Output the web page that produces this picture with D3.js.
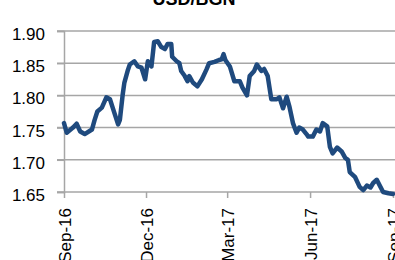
<!DOCTYPE html>
<html>
<head>
<meta charset="utf-8">
<script src="https://cdn.jsdelivr.net/npm/d3@7"></script>
<style>
  body { margin: 0; background: #fff; overflow: hidden; }
  text { font-family: "Liberation Sans", Arial, sans-serif; }
</style>
</head>
<body>
<div id="chart"></div>
<script>
// USD/BGN, Sep-16 .. Sep-17
var dates = ["2016-09-01","2016-09-04","2016-09-11","2016-09-15","2016-09-19","2016-09-24",
  "2016-10-02","2016-10-05","2016-10-08","2016-10-13","2016-10-18","2016-10-22","2016-10-25",
  "2016-10-31","2016-11-02","2016-11-05","2016-11-07","2016-11-11","2016-11-13","2016-11-18",
  "2016-11-22","2016-11-26","2016-11-30","2016-12-03","2016-12-07","2016-12-10","2016-12-14",
  "2016-12-18","2016-12-22","2016-12-25","2016-12-29","2016-12-30","2017-01-04","2017-01-07",
  "2017-01-09","2017-01-13","2017-01-16","2017-01-18","2017-01-22","2017-01-27","2017-02-01",
  "2017-02-06","2017-02-09","2017-02-15","2017-02-20","2017-02-23","2017-02-25","2017-02-27",
  "2017-03-04","2017-03-09","2017-03-15","2017-03-18","2017-03-23","2017-03-26","2017-03-31",
  "2017-04-03","2017-04-08","2017-04-11","2017-04-15","2017-04-19","2017-04-25","2017-04-28",
  "2017-05-02","2017-05-06","2017-05-09","2017-05-13","2017-05-17","2017-05-20","2017-05-24",
  "2017-05-28","2017-05-30","2017-06-04","2017-06-08","2017-06-12","2017-06-15","2017-06-20",
  "2017-06-23","2017-06-26","2017-07-01","2017-07-06","2017-07-10","2017-07-13","2017-07-15",
  "2017-07-21","2017-07-26","2017-07-30","2017-08-03","2017-08-07","2017-08-10","2017-08-14",
  "2017-08-18","2017-08-21","2017-08-27","2017-09-01"];
var rates = [1.757,1.742,1.750,1.756,1.744,1.740,
  1.747,1.762,1.775,1.781,1.797,1.794,1.781,
  1.755,1.762,1.800,1.820,1.840,1.848,1.853,
  1.845,1.843,1.825,1.853,1.845,1.883,1.884,
  1.875,1.872,1.880,1.880,1.860,1.853,1.850,
  1.838,1.830,1.822,1.830,1.820,1.814,1.825,
  1.840,1.850,1.852,1.855,1.856,1.864,1.855,
  1.845,1.822,1.822,1.812,1.800,1.830,1.838,
  1.848,1.838,1.841,1.830,1.794,1.794,1.797,
  1.780,1.798,1.783,1.757,1.742,1.750,1.747,
  1.740,1.736,1.736,1.747,1.744,1.757,1.752,
  1.720,1.710,1.719,1.713,1.703,1.700,1.681,
  1.673,1.658,1.653,1.660,1.657,1.664,1.669,
  1.658,1.650,1.648,1.647];
var yTicks = [1.65, 1.70, 1.75, 1.80, 1.85, 1.90];
var xTicks = ["2016-09-01","2016-12-01","2017-03-01","2017-06-01","2017-09-01"];
var title = "USD/BGN";

var W = 395, H = 260;
var margin = {left: 64, top: 31, right: 2, bottom: 68};
var parse = d3.timeParse("%Y-%m-%d");

var data = dates.map(function(d, i) { return {date: parse(d), value: rates[i]}; });

var svg = d3.select("#chart").append("svg")
  .attr("width", W).attr("height", H);

var x = d3.scaleTime()
  .domain([parse(xTicks[0]), parse(xTicks[xTicks.length - 1])])
  .range([margin.left, W - margin.right]);
var y = d3.scaleLinear()
  .domain([1.65, 1.90])
  .range([H - margin.bottom, margin.top]);

// gridlines
svg.append("g")
  .selectAll("line")
  .data(yTicks)
  .enter().append("line")
  .attr("x1", margin.left - 7).attr("x2", W + 5)
  .attr("y1", function(d) { return y(d); })
  .attr("y2", function(d) { return y(d); })
  .style("stroke", "#a6a6a6")
  .style("stroke-width", 1.5);

// y axis
var yAxis = svg.append("g")
  .attr("transform", "translate(" + margin.left + ",0)")
  .call(d3.axisLeft(y).tickValues(yTicks).tickFormat(d3.format(".2f")).tickSize(7).tickPadding(12));
yAxis.select(".domain").style("stroke", "#a6a6a6").style("stroke-width", 1.5);
yAxis.selectAll(".tick line").style("stroke", "#a6a6a6").style("stroke-width", 1.5);
yAxis.selectAll("text")
  .style("font-size", "17px").style("fill", "#000")
  .attr("dy", "0.5em");

// x axis
var xAxis = svg.append("g")
  .attr("transform", "translate(0," + y(1.65) + ")")
  .call(d3.axisBottom(x).tickValues(xTicks.map(parse)).tickFormat(d3.timeFormat("%b-%y")).tickSize(6).tickSizeOuter(0));
xAxis.select(".domain").remove();
xAxis.selectAll(".tick line").style("stroke", "#a6a6a6").style("stroke-width", 1.5);
xAxis.selectAll("text")
  .style("font-size", "17px").style("fill", "#000")
  .attr("text-anchor", "end")
  .attr("transform", "rotate(-90)")
  .attr("x", -16).attr("y", 0).attr("dy", "0.38em");

// line
var line = d3.line()
  .x(function(d) { return x(d.date); })
  .y(function(d) { return y(d.value); });

svg.append("path")
  .datum(data)
  .attr("d", line)
  .style("fill", "none")
  .style("stroke", "#1f4a7e")
  .style("stroke-width", 4.5)
  .style("stroke-linejoin", "round")
  .style("stroke-linecap", "round");

// title, cut off at the top
svg.append("text")
  .attr("x", 194).attr("y", 5)
  .attr("text-anchor", "middle")
  .style("font-size", "18px").style("font-weight", "bold")
  .text(title);
</script>
</body>
</html>
